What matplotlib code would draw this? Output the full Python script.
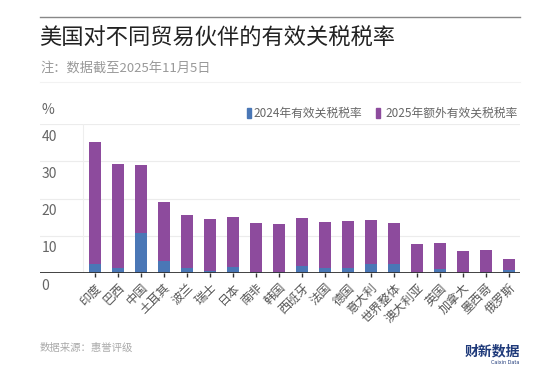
import matplotlib
matplotlib.use("Agg")
import matplotlib.pyplot as plt
from matplotlib.patches import Rectangle
from matplotlib.lines import Line2D
import numpy as np

plt.rcParams["font.family"] = ["Noto Sans CJK SC", "DejaVu Sans"]
plt.rcParams["axes.unicode_minus"] = False

# data
countries = ["印度", "巴西", "中国", "土耳其", "波兰", "瑞士", "日本", "南非", "韩国",
             "西班牙", "法国", "德国", "意大利", "世界整体", "澳大利亚", "英国",
             "加拿大", "墨西哥", "俄罗斯"]
rate_2024 = [2.4, 1.3, 10.7, 3.3, 1.4, 0.5, 1.5, 0.3, 0.2,
             1.9, 1.3, 1.4, 2.3, 2.4, 0.1, 1.1, 0.1, 0.2, 0.8]
extra_2025 = [32.7, 27.9, 18.4, 15.7, 14.2, 14.1, 13.5, 13.1, 13.0,
              12.8, 12.3, 12.5, 12.0, 11.1, 7.6, 7.0, 5.9, 5.9, 3.0]
y_ticks = [0, 10, 20, 30, 40]

label_2024 = "2024年有效关税税率"
label_2025 = "2025年额外有效关税税率"

blue = "#4a77b6"
purple = "#8d4b9d"

W, H = 560, 373
fig = plt.figure(figsize=(W / 100, H / 100), dpi=100)
fig.patch.set_facecolor("white")


def px(x, y):
    # pixel coords (from top-left) -> figure fraction
    return x / W, 1 - y / H


ax_l, ax_r, ax_t, ax_b = 40, 520, 124, 273
ax = fig.add_axes([ax_l / W, 1 - ax_b / H, (ax_r - ax_l) / W, (ax_b - ax_t) / H])

x = np.arange(len(countries))
ax.bar(x, rate_2024, width=0.53, color=blue, zorder=3)
ax.bar(x, extra_2025, width=0.53, bottom=rate_2024, color=purple, zorder=3)

ax.set_xlim(-2.39, 18.48)
ax.set_ylim(0, 40)

for s in ax.spines.values():
    s.set_visible(False)
for v in y_ticks[1:]:
    ax.axhline(v, color="#ececec", linewidth=0.8, zorder=1)
ax.axhline(0, color="#333333", linewidth=1.3, zorder=4)
ax.axvline(-0.52, color="#eeeeee", linewidth=0.8, zorder=1)

ax.set_yticks([])
for v in y_ticks:
    ax.annotate(str(v), xy=(0, v), xycoords=("axes fraction", "data"),
                xytext=(1, -4), textcoords="offset points",
                ha="left", va="top", fontsize=10, color="#666666")
ax.annotate("%", xy=(0, 40), xycoords=("axes fraction", "data"),
            xytext=(1, 5), textcoords="offset points",
            ha="left", va="bottom", fontsize=10, color="#666666")

ax.set_xticks(x)
ax.set_xticklabels(countries, rotation=45, ha="right", rotation_mode="anchor",
                   fontsize=8.8, color="#555555")
ax.tick_params(axis="x", length=3, width=1, color="#333333", pad=3)

# legend
fig.patches.append(Rectangle(px(247, 118), 4 / W, 10 / H, transform=fig.transFigure,
                             color=blue, figure=fig))
fig.text(*px(253, 113), label_2024, fontsize=8.5, color="#666666", va="center", ha="left")
fig.patches.append(Rectangle(px(376, 118), 4 / W, 10 / H, transform=fig.transFigure,
                             color=purple, figure=fig))
fig.text(*px(385, 113), label_2025, fontsize=8.5, color="#666666", va="center", ha="left")

# header
fig.lines.append(Line2D([40 / W, 520 / W], [1 - 17 / H] * 2, transform=fig.transFigure,
                        color="#888888", linewidth=1.0))
fig.lines.append(Line2D([40 / W, 520 / W], [1 - 82 / H] * 2, transform=fig.transFigure,
                        color="#f2f2f2", linewidth=0.8))
fig.text(*px(39, 38), "美国对不同贸易伙伴的有效关税税率", fontsize=16, color="#222222",
         va="center", ha="left")
fig.text(*px(40, 68), "注：数据截至2025年11月5日", fontsize=9.5, color="#999999",
         va="center", ha="left")

# footer
fig.text(*px(40, 348), "数据来源：惠誉评级", fontsize=7.5, color="#aaaaaa", va="center", ha="left")
fig.text(*px(520, 351), "财新数据", fontsize=10, fontweight="bold", color="#1f3a7a",
         va="center", ha="right")
fig.text(*px(505, 362), "Caixin Data", fontsize=3.5, color="#1f3a7a", va="center", ha="center",
         family="DejaVu Sans")

fig.savefig("out.png", dpi=100, facecolor="white")
